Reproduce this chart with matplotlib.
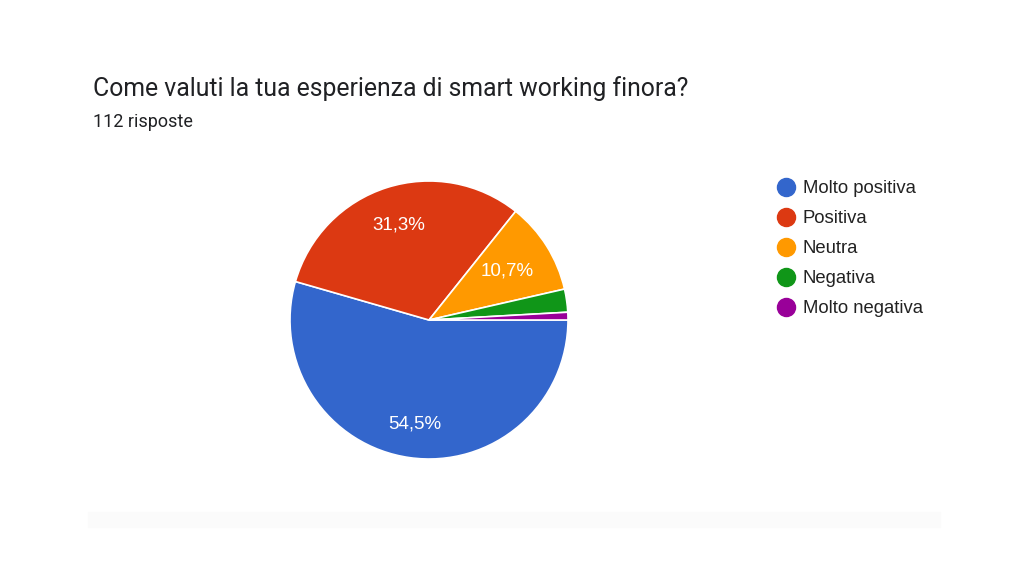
import matplotlib
matplotlib.use("Agg")
import matplotlib.pyplot as plt
from matplotlib.lines import Line2D
from matplotlib.patches import Rectangle
from decimal import Decimal, ROUND_HALF_UP
import numpy as np

categories = ["Molto positiva", "Positiva", "Neutra", "Negativa", "Molto negativa"]
counts = [61, 35, 12, 3, 1]
colors = ["#3366CC", "#DC3912", "#FF9900", "#109618", "#990099"]
title = "Come valuti la tua esperienza di smart working finora?"
subtitle = "112 risposte"

W, H = 1024, 576
fig = plt.figure(figsize=(W / 100, H / 100), dpi=100)
fig.patch.set_facecolor("white")

# faint bottom band
fig.add_artist(Rectangle((88 / W, 1 - 527 / H), (940 - 88) / W, 15 / H,
                         transform=fig.transFigure, color="#fbfbfb", zorder=0))

cx, cy, r = 429, 320, 139
ax = fig.add_axes([(cx - r) / W, 1 - (cy + r) / H, 2 * r / W, 2 * r / H])
wedges, _ = ax.pie(counts, colors=colors, startangle=0, counterclock=False,
                   radius=1, wedgeprops=dict(edgecolor="white", linewidth=1.2))
ax.set_xlim(-1, 1)
ax.set_ylim(-1, 1)
ax.set_aspect("equal")
ax.axis("off")

total = sum(counts)
dists = [0.755, 0.72, 0.665, 0.7, 0.7]
for w, c, d in zip(wedges, counts, dists):
    pct = Decimal(100 * c) / Decimal(total)
    if pct < 5:
        continue
    txt = str(pct.quantize(Decimal("0.1"), rounding=ROUND_HALF_UP)).replace(".", ",") + "%"
    ang = np.deg2rad((w.theta1 + w.theta2) / 2)
    ax.text(d * np.cos(ang), d * np.sin(ang), txt,
            ha="center", va="center", color="white", fontsize=13.5,
            family="Liberation Sans")

fig.text(93 / W, 1 - 89 / H, title, fontsize=17.8, family="Roboto",
         color="#202124", ha="left", va="center")
fig.text(93 / W, 1 - 122 / H, subtitle, fontsize=13, family="Roboto",
         color="#202124", ha="left", va="center")

handles = [Line2D([], [], marker="o", linestyle="none", markersize=13,
                  markerfacecolor=col, markeredgecolor=col) for col in colors]
fig.legend(handles, categories, loc="upper left",
           bbox_to_anchor=(774 / W, 1 - 180 / H), frameon=False,
           prop=dict(family="Liberation Sans", size=13.3),
           labelspacing=0.71, handletextpad=0.25, handlelength=1.3,
           borderaxespad=0, borderpad=0, labelcolor="#222222")

fig.savefig("out.png", dpi=100, facecolor="white")
